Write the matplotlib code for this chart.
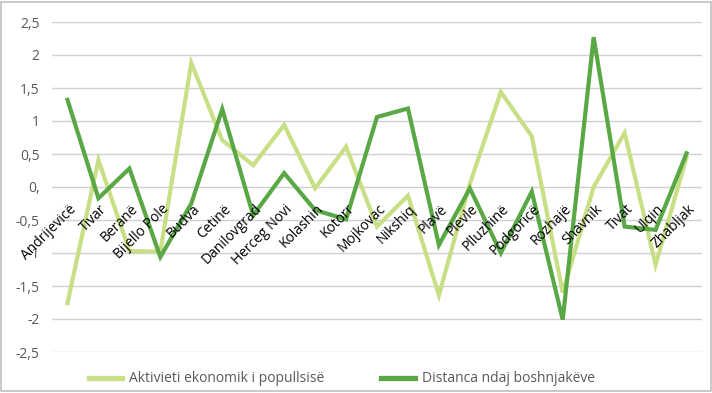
import matplotlib
matplotlib.use("Agg")
import matplotlib.pyplot as plt
from matplotlib.patches import Rectangle

plt.rcParams['font.family'] = ['Open Sans', 'DejaVu Sans']

# --- data ---
komunat = ["Andrijevicë", "Tivar", "Beranë", "Bijello Pole", "Budva", "Cetinë",
           "Danilovgrad", "Herceg Novi", "Kolashin", "Kotorr", "Mojkovac", "Nikshiq",
           "Plavë", "Plevle", "Plluzhinë", "Podgoricë", "Rozhajë", "Shavnik",
           "Tivat", "Ulqin", "Zhabljak"]
aktiviteti = [-1.76, 0.41, -0.97, -0.98, 1.88, 0.71, 0.33, 0.94, -0.02, 0.61,
              -0.6, -0.13, -1.64, 0.05, 1.44, 0.77, -1.6, 0.0, 0.82, -1.18, 0.45]
distanca = [1.32, -0.17, 0.28, -1.06, -0.25, 1.18, -0.43, 0.21, -0.35, -0.49,
            1.06, 1.19, -0.88, -0.02, -1.0, -0.07, -2.01, 2.27, -0.6, -0.65, 0.51]
yticks = [2.5, 2, 1.5, 1, 0.5, 0, -0.5, -1, -1.5, -2, -2.5]
ytick_labels = ["2,5", "2", "1,5", "1", "0,5", "0,", "-0,5", "-1", "-1,5", "-2", "-2,5"]

light = "#c9df85"
dark = "#5aa845"

fig = plt.figure(figsize=(7.12, 3.93), dpi=100)
ax = fig.add_axes([52 / 712, 1 - 352 / 393, 650 / 712, 330 / 393])

x = list(range(len(komunat)))
ax.plot(x, aktiviteti, color=light, lw=3, solid_joinstyle="miter",
        label="Aktivieti ekonomik i popullsisë", zorder=3)
ax.plot(x, distanca, color=dark, lw=3, solid_joinstyle="miter",
        label="Distanca ndaj boshnjakëve", zorder=4)

ax.set_xlim(-0.5, len(komunat) - 0.5)
ax.set_ylim(-2.5, 2.5)
ax.set_yticks(yticks)
ax.set_yticklabels(ytick_labels, color="#595959", fontsize=10)
ax.tick_params(axis="y", length=0, pad=9)
ax.set_xticks([])
ax.grid(axis="y", color="#d0d0d0", lw=1)
ax.set_axisbelow(True)
for s in ax.spines.values():
    s.set_visible(False)

# category labels sit at the 0 line, rotated
for i, k in enumerate(komunat):
    ax.text(i + 0.03, -0.22, k, rotation=45, rotation_mode="anchor",
            ha="right", va="top", fontsize=10, color="black", zorder=5)

leg = fig.legend(loc="lower center", ncol=2, frameon=False, fontsize=10,
                 labelcolor="#595959", handlelength=2.4, handletextpad=0.5,
                 columnspacing=4.1, bbox_to_anchor=(0.48, -0.015))
for h in leg.get_lines():
    h.set_linewidth(3.8)

fig.add_artist(Rectangle((0.002, 0.004), 0.996, 0.992, transform=fig.transFigure,
                         fill=False, edgecolor="#bfbfbf", lw=1.2))

fig.savefig("out.png", dpi=100)
